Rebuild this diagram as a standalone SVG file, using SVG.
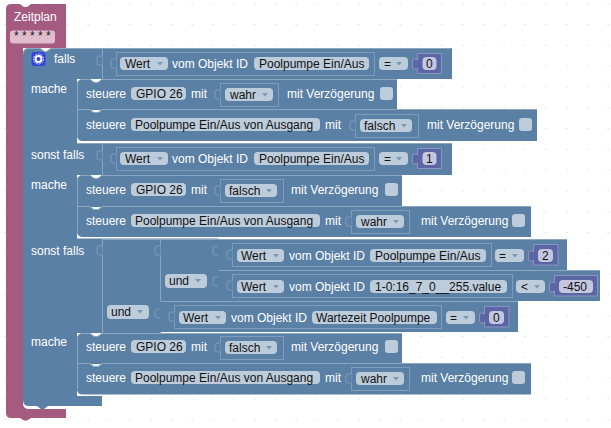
<svg xmlns="http://www.w3.org/2000/svg" width="611" height="428" viewBox="0 0 611 428">
<style>
text{font-family:"Liberation Sans",Arial,sans-serif;font-size:12px}
.w{fill:#fff}.d{fill:#111}
.b{fill:#5b80a5}
.hl{fill:none;stroke:#8ca6c0;stroke-width:1}
.n{fill:#5b80a5;stroke:#7f9dbb;stroke-width:1}
.f{fill:#bdccdb}
.v{fill:#5b67a5;stroke:#8c95c0;stroke-width:1}
.vf{fill:#c3c7e0}
.a{fill:#7d98b4}
.c{fill:#bdccdb}
.t{fill:#5b80a5;stroke:#7f9dbb;stroke-width:1}
</style>
<defs>
<pattern id="grid" width="20.8" height="20.8" patternUnits="userSpaceOnUse" x="4.2" y="3.2">
<path d="M.5 .5h1M1 0v1" stroke="#ccc" stroke-width="1"/>
</pattern>
<path id="tab" class="t" d="M0.500,0 q-1,2 -3,1 q-2.500,0 -2.500,2 v5 q0,2 2.500,2 q2,-1 3,1"/>
<path id="arr" class="a" d="M0,0 h6 l-3,3.500 z"/>
</defs>
<rect id="background" width="611" height="428" fill="#fff"/>
<rect width="611" height="428" fill="url(#grid)"/>
<g id="zeitplan">
<path d="M11,4 H20 l4,3 h3 l4,-3 H66 V48 H23 V403 Q23,409 29,409 H66 V418 H31 l-4,2.500 h-3 l-4,-2.500 H11 Q6,418 6,413 V9 Q6,4 11,4 Z" fill="#a55b80"/>
<text class="w" x="14" y="21">Zeitplan</text>
<rect x="10" y="30.500" width="45" height="13" rx="3" fill="#e0bccd"/>
<text class="d" x="14" y="40">* * * * *</text>
</g>
<g id="falls">
<path class="b" d="M29,48 H40 l4,3 h3 l4,-3 H452 V79 H77 V143 H452 V175 H77 V238.500 H218 V301 H160 V333 H77 V396 H102 V406 H48 l-4,3 h-3 l-4,-3 H29 Q23,406 23,400 V54 Q23,48 29,48 Z"/>
<path class="hl" d="M23.500,54 Q23.500,48.500 29,48.500 H40 l4,3 h3 l4,-3 H451.500 M77,143.500 H452 M102,239.500 H218"/>
<rect x="31.500" y="52" width="14" height="14" rx="3" fill="#3344dd"/>
<circle cx="38.500" cy="59" r="3" fill="none" stroke="#fff" stroke-width="2"/>
<circle cx="38.500" cy="59" r="5" fill="none" stroke="#fff" stroke-width="1" stroke-dasharray="1.500 1.300"/>
<text class="w" x="54" y="63">falls</text>
<text class="w" x="31" y="93">mache</text>
<text class="w" x="31" y="159">sonst falls</text>
<text class="w" x="31" y="189">mache</text>
<text class="w" x="31" y="255">sonst falls</text>
<text class="w" x="31" y="346">mache</text>
<path class="hl" d="M102.500,49 V79 M102.500,144 V175 M102.500,239 V333 M160.500,239 V333 M218.500,239 V301"/>
<use href="#tab" x="102" y="55"/>
<use href="#tab" x="102" y="150"/>
<use href="#tab" x="102" y="245"/>
<use href="#tab" x="160" y="245"/>
<use href="#tab" x="160" y="308"/>
<use href="#tab" x="218" y="245"/>
<use href="#tab" x="218" y="276"/>
</g>
<g id="cond1">
<rect class="n" x="116.500" y="52.500" width="258" height="23"/>
<use href="#tab" x="116" y="58"/>
<rect class="f" x="120" y="57" width="48" height="13" rx="4"/><text class="d" x="125" y="68">Wert</text><use href="#arr" x="157" y="62"/>
<text class="w" x="172" y="68">vom Objekt ID</text>
<rect class="f" x="254" y="57" width="115" height="13" rx="4"/><text class="d" x="259" y="68">Poolpumpe Ein/Aus</text>
<rect class="f" x="379" y="57" width="29" height="13" rx="4"/><text class="d" x="384" y="68">=</text><use href="#arr" x="396" y="62"/>
<path class="v" d="M417.500,53.500 H441.500 V73.500 H417.500 V68 q-1,1 -3,1 q-2,0 -2,-2 v-6 q0,-2 2,-2 q2,0 3,1 Z"/><rect class="vf" x="422.500" y="57" width="14" height="13" rx="4"/><text class="d" x="426" y="68">0</text>
</g>
<g id="set1">
<path class="b" d="M83,79 H90 l4,3 h4 l4,-3 H397 V110 H77 V85 Q77,79 83,79 Z"/>
<path class="hl" d="M77.500,110 V85 Q77.500,79.500 83,79.500 H90 l4,3 h4 l4,-3 H397"/>
<text class="w" x="86" y="98">steuere</text>
<rect class="f" x="131" y="87" width="55" height="13" rx="4"/><text class="d" x="136" y="98">GPIO 26</text>
<text class="w" x="191" y="98">mit</text>
<rect class="n" x="220.500" y="83.500" width="58" height="23"/><use href="#tab" x="220" y="89"/>
<rect class="f" x="225" y="88" width="48" height="13" rx="4"/><text class="d" x="230" y="99">wahr</text><use href="#arr" x="262" y="93"/>
<text class="w" x="287" y="98">mit Verzögerung</text>
<rect class="c" x="380" y="87" width="13" height="13" rx="3"/>
</g>
<g id="set2">
<path class="b" d="M77,110 H90 l4,3 h4 l4,-3 H537 V141 H83 Q77,141 77,135 Z"/>
<path class="hl" d="M77.500,135 V110 M77,109.500 H90 l4,3 h4 l4,-3 H537"/>
<text class="w" x="86" y="129">steuere</text>
<rect class="f" x="131" y="118" width="189" height="13" rx="4"/><text class="d" x="135" y="129">Poolpumpe Ein/Aus von Ausgang</text>
<text class="w" x="325" y="129">mit</text>
<rect class="n" x="355.500" y="114.500" width="63" height="23"/><use href="#tab" x="355" y="120"/>
<rect class="f" x="360" y="119" width="52" height="13" rx="4"/><text class="d" x="364" y="130">falsch</text><use href="#arr" x="401" y="124"/>
<text class="w" x="427" y="129">mit Verzögerung</text>
<rect class="c" x="519" y="118" width="13" height="13" rx="3"/>
</g>
<g id="cond2">
<rect class="n" x="116.500" y="147.500" width="258" height="23"/>
<use href="#tab" x="116" y="153"/>
<rect class="f" x="120" y="152" width="48" height="13" rx="4"/><text class="d" x="125" y="163">Wert</text><use href="#arr" x="157" y="157"/>
<text class="w" x="172" y="163">vom Objekt ID</text>
<rect class="f" x="254" y="152" width="115" height="13" rx="4"/><text class="d" x="259" y="163">Poolpumpe Ein/Aus</text>
<rect class="f" x="379" y="152" width="29" height="13" rx="4"/><text class="d" x="384" y="163">=</text><use href="#arr" x="396" y="157"/>
<path class="v" d="M417.500,148.500 H441.500 V168.500 H417.500 V163 q-1,1 -3,1 q-2,0 -2,-2 v-6 q0,-2 2,-2 q2,0 3,1 Z"/><rect class="vf" x="422.500" y="152" width="14" height="13" rx="4"/><text class="d" x="426" y="163">1</text>
</g>
<g id="set3">
<path class="b" d="M83,175 H90 l4,3 h4 l4,-3 H402 V207 H77 V181 Q77,175 83,175 Z"/>
<path class="hl" d="M77.500,207 V181 Q77.500,175.500 83,175.500 H90 l4,3 h4 l4,-3 H402"/>
<text class="w" x="86" y="194">steuere</text>
<rect class="f" x="131" y="183" width="55" height="13" rx="4"/><text class="d" x="136" y="194">GPIO 26</text>
<text class="w" x="191" y="194">mit</text>
<rect class="n" x="220.500" y="179.500" width="63" height="23"/><use href="#tab" x="220" y="185"/>
<rect class="f" x="225" y="184" width="52" height="13" rx="4"/><text class="d" x="229" y="195">falsch</text><use href="#arr" x="266" y="189"/>
<text class="w" x="291" y="194">mit Verzögerung</text>
<rect class="c" x="385" y="183" width="13" height="13" rx="3"/>
</g>
<g id="set4">
<path class="b" d="M77,207 H90 l4,3 h4 l4,-3 H531 V237 H83 Q77,237 77,231 Z"/>
<path class="hl" d="M77.500,231 V207 M77,206.500 H90 l4,3 h4 l4,-3 H531"/>
<text class="w" x="86" y="225">steuere</text>
<rect class="f" x="131" y="214" width="189" height="13" rx="4"/><text class="d" x="135" y="225">Poolpumpe Ein/Aus von Ausgang</text>
<text class="w" x="325" y="225">mit</text>
<rect class="n" x="351.500" y="210.500" width="58" height="23"/><use href="#tab" x="351" y="216"/>
<rect class="f" x="356" y="215" width="48" height="13" rx="4"/><text class="d" x="361" y="226">wahr</text><use href="#arr" x="393" y="220"/>
<text class="w" x="421" y="225">mit Verzögerung</text>
<rect class="c" x="512" y="214" width="13" height="13" rx="3"/>
</g>
<g id="und-outer">
<rect class="f" x="107" y="305" width="42" height="14" rx="4"/><text class="d" x="111" y="316">und</text><use href="#arr" x="137" y="310"/>
</g>
<g id="und-inner">
<rect class="f" x="165" y="274" width="42" height="14" rx="4"/><text class="d" x="169" y="285">und</text><use href="#arr" x="195" y="279"/>
</g>
<g id="rowA">
<path class="b" d="M218,239 H567 V270 H218 Z"/><path class="hl" d="M218.500,239.500 H567"/>
<rect class="n" x="232.500" y="243.500" width="259" height="23"/><use href="#tab" x="232" y="249"/>
<rect class="f" x="237" y="249" width="47" height="13" rx="4"/><text class="d" x="241" y="260">Wert</text><use href="#arr" x="273" y="254"/>
<text class="w" x="289" y="260">vom Objekt ID</text>
<rect class="f" x="370" y="249" width="116" height="13" rx="4"/><text class="d" x="375" y="260">Poolpumpe Ein/Aus</text>
<rect class="f" x="495" y="249" width="29" height="13" rx="4"/><text class="d" x="499" y="260">=</text><use href="#arr" x="512" y="254"/>
<path class="v" d="M533.500,244.500 H558 V265 H533.500 V260 q-1,1 -3,1 q-2,0 -2,-2 v-6 q0,-2 2,-2 q2,0 3,1 Z"/><rect class="vf" x="538" y="249" width="15" height="13" rx="4"/><text class="d" x="542" y="260">2</text>
</g>
<g id="rowB">
<path class="b" d="M218,270 H600 V301 H218 Z"/><path class="hl" d="M218.500,270.500 H600"/>
<rect class="n" x="232.500" y="274.500" width="280" height="23"/><use href="#tab" x="232" y="280"/>
<rect class="f" x="237" y="280" width="47" height="13" rx="4"/><text class="d" x="241" y="291">Wert</text><use href="#arr" x="273" y="285"/>
<text class="w" x="289" y="291">vom Objekt ID</text>
<rect class="f" x="370" y="280" width="137" height="13" rx="4"/><text class="d" x="375" y="291">1-0:16_7_0__255.value</text>
<rect class="f" x="516" y="280" width="29" height="13" rx="4"/><text class="d" x="521" y="291">&lt;</text><use href="#arr" x="534" y="285"/>
<path class="v" d="M554.500,275.500 H597.500 V296 H554.500 V291 q-1,1 -3,1 q-2,0 -2,-2 v-6 q0,-2 2,-2 q2,0 3,1 Z"/><rect class="vf" x="559" y="280" width="34" height="13" rx="4"/><text class="d" x="563" y="291">-450</text>
</g>
<g id="rowC">
<path class="b" d="M160,301 H518 V332 H160 Z"/><path class="hl" d="M160.500,301.500 H518"/>
<rect class="n" x="174.500" y="305.500" width="267" height="23"/><use href="#tab" x="174" y="311"/>
<rect class="f" x="179" y="311" width="47" height="13" rx="4"/><text class="d" x="183" y="322">Wert</text><use href="#arr" x="215" y="316"/>
<text class="w" x="231" y="322">vom Objekt ID</text>
<rect class="f" x="312" y="311" width="125" height="13" rx="4"/><text class="d" x="316" y="322">Wartezeit Poolpumpe</text>
<rect class="f" x="446" y="311" width="29" height="13" rx="4"/><text class="d" x="450" y="322">=</text><use href="#arr" x="463" y="316"/>
<path class="v" d="M484.500,306.500 H509 V327 H484.500 V322 q-1,1 -3,1 q-2,0 -2,-2 v-6 q0,-2 2,-2 q2,0 3,1 Z"/><rect class="vf" x="489" y="311" width="15" height="13" rx="4"/><text class="d" x="493" y="322">0</text>
</g>
<g id="set5">
<path class="b" d="M83,333 H90 l4,3 h4 l4,-3 H402 V364 H77 V339 Q77,333 83,333 Z"/>
<path class="hl" d="M77.500,364 V339 Q77.500,333.500 83,333.500 H90 l4,3 h4 l4,-3 H402"/>
<text class="w" x="86" y="351">steuere</text>
<rect class="f" x="131" y="340" width="55" height="13" rx="4"/><text class="d" x="136" y="351">GPIO 26</text>
<text class="w" x="191" y="351">mit</text>
<rect class="n" x="220.500" y="336.500" width="63" height="23"/><use href="#tab" x="220" y="342"/>
<rect class="f" x="225" y="341" width="52" height="13" rx="4"/><text class="d" x="229" y="352">falsch</text><use href="#arr" x="266" y="346"/>
<text class="w" x="291" y="351">mit Verzögerung</text>
<rect class="c" x="385" y="340" width="13" height="13" rx="3"/>
</g>
<g id="set6">
<path class="b" d="M77,364 H90 l4,3 h4 l4,-3 H531 V394.500 H83 Q77,394.500 77,389 Z"/>
<path class="hl" d="M77.500,389 V364 M77,363.500 H90 l4,3 h4 l4,-3 H531"/>
<text class="w" x="86" y="382">steuere</text>
<rect class="f" x="131" y="371" width="189" height="13" rx="4"/><text class="d" x="135" y="382">Poolpumpe Ein/Aus von Ausgang</text>
<text class="w" x="325" y="382">mit</text>
<rect class="n" x="351.500" y="367.500" width="58" height="23"/><use href="#tab" x="351" y="373"/>
<rect class="f" x="356" y="372" width="48" height="13" rx="4"/><text class="d" x="361" y="383">wahr</text><use href="#arr" x="393" y="377"/>
<text class="w" x="421" y="382">mit Verzögerung</text>
<rect class="c" x="512" y="371" width="13" height="13" rx="3"/>
</g>
</svg>
